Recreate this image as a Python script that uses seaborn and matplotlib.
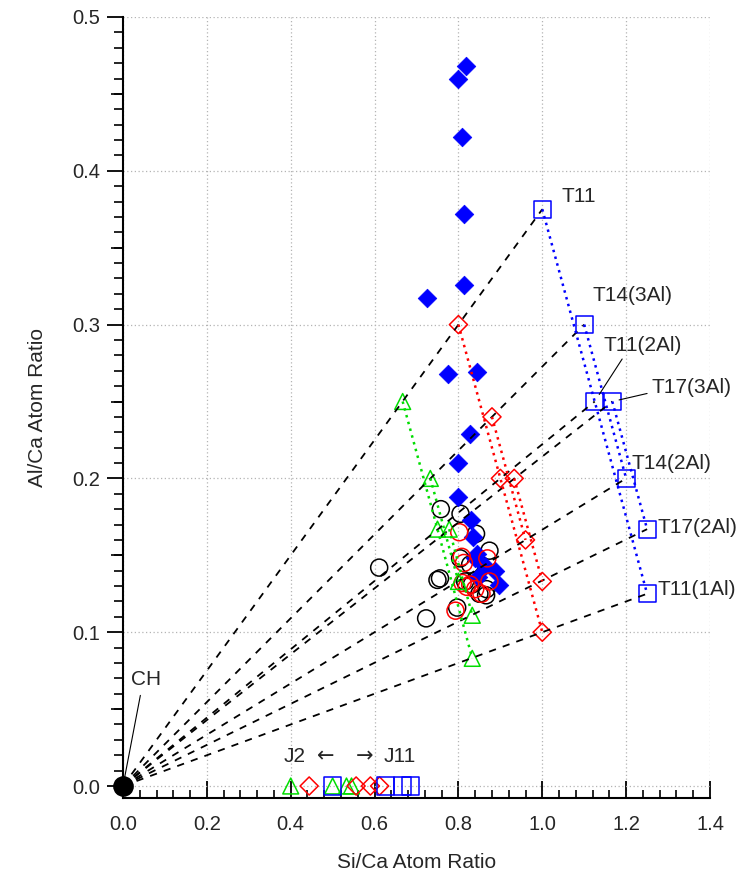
import matplotlib
matplotlib.use("Agg")
import matplotlib.pyplot as plt
import seaborn as sns
import pandas as pd
from matplotlib.ticker import MultipleLocator, FormatStrFormatter

# ---- model compositions (blue squares, with labels) ----
t_labels = ["T11", "T14(3Al)", "T11(2Al)", "T17(3Al)", "T14(2Al)", "T17(2Al)", "T11(1Al)"]
t_family = ["T11", "T14", "T11", "T17", "T14", "T17", "T11"]
t_si = [1.0, 1.1, 1.125, 1.167, 1.2, 1.25, 1.25]
t_al = [0.375, 0.30, 0.25, 0.25, 0.20, 0.167, 0.125]

# ---- the same structures diluted (red diamonds, green triangles) ----
red_si = [0.80, 0.88, 0.90, 0.933, 0.96, 1.0, 1.0]
red_al = [0.30, 0.24, 0.20, 0.20, 0.16, 0.133, 0.10]
green_si = [0.667, 0.733, 0.75, 0.778, 0.80, 0.833, 0.833]
green_al = [0.25, 0.20, 0.167, 0.167, 0.133, 0.111, 0.083]

# ---- jennite-type points on the Al/Ca = 0 axis ----
j_green_si = [0.40, 0.50, 0.533, 0.545]
j_red_si = [0.444, 0.556, 0.59, 0.612]
j_blue_si = [0.50, 0.625, 0.667, 0.686]

# ---- measured compositions ----
diamond_si = [0.818, 0.800, 0.809, 0.814, 0.814, 0.724, 0.776, 0.844, 0.828, 0.800,
              0.800, 0.829, 0.834, 0.844, 0.839, 0.863, 0.887, 0.847, 0.897]
diamond_al = [0.468, 0.460, 0.422, 0.372, 0.326, 0.317, 0.268, 0.269, 0.229, 0.210,
              0.188, 0.173, 0.162, 0.151, 0.148, 0.143, 0.140, 0.136, 0.131]
black_si = [0.758, 0.805, 0.842, 0.874, 0.804, 0.828, 0.756, 0.816, 0.832, 0.867,
            0.850, 0.866, 0.797, 0.723, 0.611, 0.750]
black_al = [0.180, 0.177, 0.164, 0.153, 0.148, 0.144, 0.135, 0.133, 0.131, 0.128,
            0.125, 0.124, 0.116, 0.109, 0.142, 0.134]
redc_si = [0.802, 0.808, 0.813, 0.869, 0.810, 0.828, 0.874, 0.793, 0.820, 0.840, 0.855]
redc_al = [0.165, 0.149, 0.145, 0.148, 0.132, 0.131, 0.133, 0.114, 0.1295, 0.128, 0.125]

ch_si, ch_al = [0.0], [0.0]

BLUE, RED, GREEN = "#0000ff", "#ff0000", "#00dd00"

sns.set_style("white")
plt.rcParams["font.family"] = ["Liberation Sans", "DejaVu Sans"]

fig = plt.figure(figsize=(7.39, 8.74), dpi=100)
ax = fig.add_axes([123 / 739, 1 - 798 / 874, (710 - 123) / 739, (798 - 17) / 874])
ax.set_xlim(0, 1.4)
ax.set_ylim(-0.0078, 0.5)

# dotted grid at the major ticks
ax.xaxis.set_major_locator(MultipleLocator(0.2))
ax.xaxis.set_minor_locator(MultipleLocator(0.04))
ax.yaxis.set_major_locator(MultipleLocator(0.1))
ax.yaxis.set_minor_locator(MultipleLocator(0.01))
ax.grid(True, which="major", color="#b4b4b4", linestyle=(0, (1, 2)), linewidth=0.9)
ax.set_axisbelow(True)

# dashed rays from the CH origin to every model composition
rays = pd.DataFrame({
    "si": [v for s in t_si for v in (ch_si[0], s)],
    "al": [v for a in t_al for v in (ch_al[0], a)],
    "ray": [lab for lab in t_labels for _ in range(2)],
})
sns.lineplot(data=rays, x="si", y="al", units="ray", estimator=None, sort=False,
             color="black", linewidth=1.3, linestyle=(0, (4, 4)), ax=ax,
             legend=False)

# dotted series lines joining members of each family
def family_lines(xs, ys, color):
    df = pd.DataFrame({"si": xs, "al": ys, "fam": t_family})
    sns.lineplot(data=df, x="si", y="al", units="fam", estimator=None, sort=False,
                 color=color, linewidth=1.8, linestyle=(0, (1, 1.8)), ax=ax, legend=False)

family_lines(t_si, t_al, BLUE)
family_lines(red_si, red_al, RED)
family_lines(green_si, green_al, GREEN)

hollow = dict(facecolor="none", linewidth=1.1)

# measured data
sns.scatterplot(x=black_si, y=black_al, marker="o", s=150, edgecolor="black", ax=ax, **hollow)
sns.scatterplot(x=diamond_si, y=diamond_al, marker="D", s=90, color=BLUE,
                edgecolor=BLUE, linewidth=0.5, ax=ax)
sns.scatterplot(x=redc_si, y=redc_al, marker="o", s=150, edgecolor=RED, ax=ax, **hollow)

# model points
sns.scatterplot(x=green_si, y=green_al, marker="^", s=130, edgecolor=GREEN, ax=ax, **hollow)
sns.scatterplot(x=red_si, y=red_al, marker="D", s=85, edgecolor=RED, ax=ax, **hollow)
sns.scatterplot(x=t_si, y=t_al, marker="s", s=150, edgecolor=BLUE, ax=ax, **hollow)

zero = [0.0] * 4
sns.scatterplot(x=j_green_si, y=zero, marker="^", s=130, edgecolor=GREEN, ax=ax, **hollow)
sns.scatterplot(x=j_red_si, y=zero, marker="D", s=85, edgecolor=RED, ax=ax, **hollow)
sns.scatterplot(x=j_blue_si, y=zero, marker="s", s=150, edgecolor=BLUE, ax=ax, **hollow)

sns.scatterplot(x=ch_si, y=ch_al, marker="o", s=190, color="black", edgecolor="black", ax=ax)
for coll in ax.collections[-1:]:
    coll.set_clip_on(False)
    coll.set_zorder(5)

# labels
FS = 15
label_pos = {
    "T11": (1.045, 0.383),
    "T14(3Al)": (1.119, 0.319),
    "T14(2Al)": (1.212, 0.210),
    "T17(2Al)": (1.274, 0.168),
    "T11(1Al)": (1.274, 0.128),
}
for lab, (tx, ty) in label_pos.items():
    ax.text(tx, ty, lab, fontsize=FS, ha="left", va="center")

i = t_labels.index("T11(2Al)")
ax.annotate("T11(2Al)", xy=(t_si[i], t_al[i]), xytext=(1.145, 0.2867), fontsize=FS,
            ha="left", va="center",
            arrowprops=dict(arrowstyle="-", color="black", lw=0.8, relpos=(0.28, 0.0),
                            shrinkA=1, shrinkB=6))
i = t_labels.index("T17(3Al)")
ax.annotate("T17(3Al)", xy=(t_si[i], t_al[i]), xytext=(1.261, 0.259), fontsize=FS,
            ha="left", va="center",
            arrowprops=dict(arrowstyle="-", color="black", lw=0.8, relpos=(0.0, 0.25),
                            shrinkA=1, shrinkB=5))
ax.annotate("CH", xy=(0, 0), xytext=(0.019, 0.069), fontsize=FS, ha="left", va="center",
            arrowprops=dict(arrowstyle="-", color="black", lw=0.8, relpos=(0.35, 0.0),
                            shrinkA=2, shrinkB=0))

ax.text(0.382, 0.0195, "J2", fontsize=FS, ha="left", va="center")
ax.text(0.462, 0.0195, "\u2190", fontsize=FS, ha="left", va="center",
        family=["DejaVu Sans"])
ax.text(0.556, 0.0195, "\u2192", fontsize=FS, ha="left", va="center",
        family=["DejaVu Sans"])
ax.text(0.622, 0.0195, "J11", fontsize=FS, ha="left", va="center")

# axes styling
for side in ("top", "right"):
    ax.spines[side].set_visible(False)
for side in ("left", "bottom"):
    ax.spines[side].set_linewidth(1.5)
    ax.spines[side].set_color("black")

ax.xaxis.set_major_formatter(FormatStrFormatter("%.1f"))
ax.yaxis.set_major_formatter(FormatStrFormatter("%.1f"))
ax.tick_params(axis="x", which="major", direction="in", length=12, width=1.3,
               labelsize=14.5, pad=12, color="black")
ax.tick_params(axis="x", which="minor", direction="in", length=5.5, width=1.2, color="black")
ax.tick_params(axis="y", which="major", direction="out", length=11.5, width=1.3,
               labelsize=14.5, pad=5, color="black", left=True)
ax.tick_params(axis="y", which="minor", direction="out", length=6.5, width=1.2,
               color="black", left=True)
ax.tick_params(axis="x", bottom=True, which="both")

# intermediate ticks every 0.05 on the Al/Ca axis
sec = ax.secondary_yaxis("left")
sec.set_yticks([0.05, 0.15, 0.25, 0.35, 0.45])
sec.tick_params(direction="out", length=8.6, width=1.2, labelleft=False, color="black")
sec.spines["left"].set_visible(False)

ax.set_xlabel("Si/Ca Atom Ratio", fontsize=FS, labelpad=14)
ax.set_ylabel("Al/Ca Atom Ratio", fontsize=FS, labelpad=18)

fig.savefig("out.png", dpi=100)
